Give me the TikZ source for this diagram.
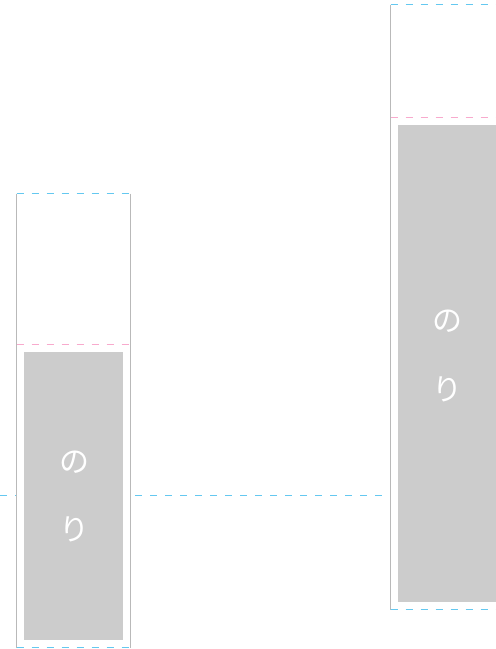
\documentclass[tikz,border=0pt]{standalone}
\usepackage{fontspec}
\newfontfamily\cjk{Noto Sans CJK JP}
\definecolor{guideblue}{RGB}{100,200,240}
\definecolor{guidepink}{RGB}{248,170,205}
\definecolor{edgegray}{RGB}{185,185,185}
\definecolor{fillgray}{RGB}{204,204,204}
\tikzset{
  bluedash/.style={draw=guideblue,line width=1.6pt,dash pattern=on 7pt off 8pt},
  pinkdash/.style={draw=guidepink,line width=1.6pt,dash pattern=on 7pt off 8pt},
  sideline/.style={draw=edgegray,line width=1.4pt},
  noriarea/.style={fill=fillgray,draw=none},
  kana/.style={text=white,font=\cjk\fontsize{30}{30}\selectfont,inner sep=0pt,anchor=center}
}
\begin{document}
\begin{tikzpicture}[x=1pt,y=-1pt]
\useasboundingbox (0,0) rectangle (496,649);
% horizontal guide
\draw[bluedash] (0,495.5) -- (383,495.5);
% left box
\fill[white] (16.5,193.5) rectangle (130.5,647.5);
\draw[sideline] (16.5,193.5) -- (16.5,647.5);
\draw[sideline] (130.5,193.5) -- (130.5,647.5);
\draw[bluedash] (16.5,193.5) -- (130.5,193.5);
\draw[bluedash] (16.5,647.5) -- (130.5,647.5);
\draw[pinkdash] (16.5,344.5) -- (130.5,344.5);
\fill[noriarea] (24,352) rectangle (123,640);
\node[kana] (lno) at (74.5,462) {の};
\node[kana] (lri) at (74.5,529) {り};
% right box
\fill[white] (390.5,4.5) rectangle (500,609.5);
\draw[sideline] (390.5,4.5) -- (390.5,609.5);
\draw[bluedash] (390.5,4.5) -- (500,4.5);
\draw[bluedash] (390.5,609.5) -- (500,609.5);
\draw[pinkdash] (390.5,117.5) -- (500,117.5);
\fill[noriarea] (398,125) rectangle (500,602);
\node[kana] (rno) at (447.5,321) {の};
\node[kana] (rri) at (447,389) {り};
\end{tikzpicture}
\end{document}
